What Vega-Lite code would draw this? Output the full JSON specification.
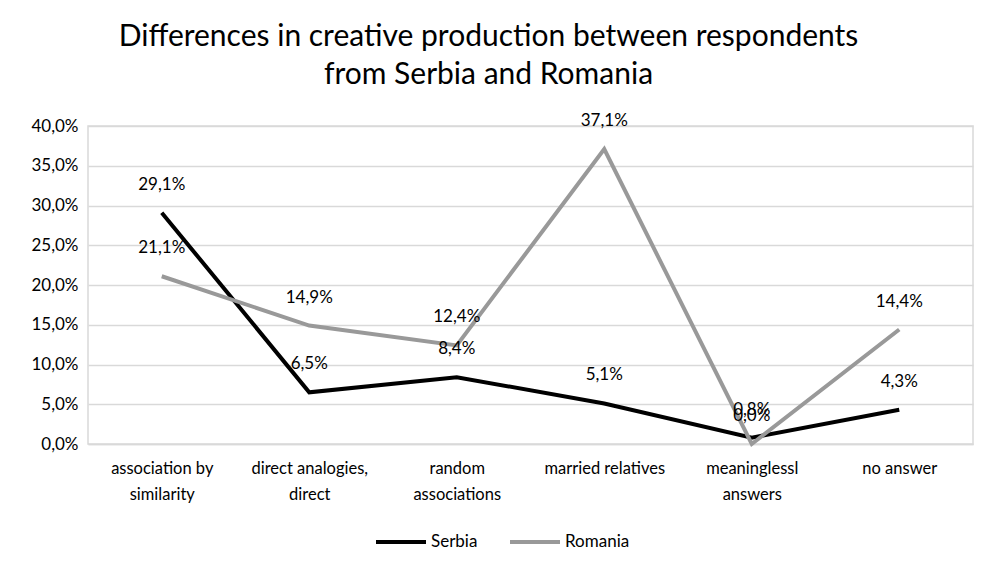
{
  "$schema": "https://vega.github.io/schema/vega-lite/v6.json",
  "width": 885,
  "height": 318,
  "padding": {"left": 30, "top": 22, "right": 9, "bottom": 8},
  "background": "white",
  "title": {
    "text": ["Differences in creative production between respondents", "from Serbia and Romania"],
    "font": "Lato",
    "fontSize": 30,
    "fontWeight": "normal",
    "color": "#000000",
    "lineHeight": 38,
    "offset": 22,
    "dx": -42,
    "anchor": "middle"
  },
  "data": {
    "values": [
      {"category": "association by similarity", "country": "Serbia", "value": 0.291, "label": "29,1%"},
      {"category": "direct analogies, direct", "country": "Serbia", "value": 0.065, "label": "6,5%"},
      {"category": "random associations", "country": "Serbia", "value": 0.084, "label": "8,4%"},
      {"category": "married relatives", "country": "Serbia", "value": 0.051, "label": "5,1%"},
      {"category": "meaninglessl answers", "country": "Serbia", "value": 0.008, "label": "0,8%"},
      {"category": "no answer", "country": "Serbia", "value": 0.043, "label": "4,3%"},
      {"category": "association by similarity", "country": "Romania", "value": 0.211, "label": "21,1%"},
      {"category": "direct analogies, direct", "country": "Romania", "value": 0.149, "label": "14,9%"},
      {"category": "random associations", "country": "Romania", "value": 0.124, "label": "12,4%"},
      {"category": "married relatives", "country": "Romania", "value": 0.371, "label": "37,1%"},
      {"category": "meaninglessl answers", "country": "Romania", "value": 0.0, "label": "0,0%"},
      {"category": "no answer", "country": "Romania", "value": 0.144, "label": "14,4%"}
    ]
  },
  "encoding": {
    "x": {
      "field": "category",
      "type": "nominal",
      "sort": null,
      "scale": {"paddingInner": 0, "paddingOuter": 0},
      "axis": {
        "title": null,
        "labelAngle": 0,
        "labelFont": "Lato",
        "labelFontSize": 16.5,
        "labelColor": "#000000",
        "labelLineHeight": 26,
        "labelPadding": 16,
        "ticks": false,
        "domainColor": "#d9d9d9",
        "domainWidth": 1.5,
        "labelExpr": "datum.value == 'association by similarity' ? ['association by', 'similarity'] : datum.value == 'direct analogies, direct' ? ['direct analogies,', 'direct'] : datum.value == 'random associations' ? ['random', 'associations'] : datum.value == 'meaninglessl answers' ? ['meaninglessl', 'answers'] : datum.value"
      }
    },
    "y": {
      "field": "value",
      "type": "quantitative",
      "scale": {"domain": [0, 0.4]},
      "axis": {
        "title": null,
        "values": [0, 0.05, 0.1, 0.15, 0.2, 0.25, 0.3, 0.35, 0.4],
        "labelOverlap": false,
        "labelExpr": "replace(format(datum.value * 100, '.1f'), '.', ',') + '%'",
        "labelFont": "Lato",
        "labelFontSize": 17,
        "labelColor": "#000000",
        "labelPadding": 10,
        "ticks": false,
        "domain": false,
        "gridColor": "#d9d9d9",
        "gridWidth": 1.5
      }
    },
    "color": {
      "field": "country",
      "type": "nominal",
      "sort": ["Serbia", "Romania"],
      "scale": {"domain": ["Serbia", "Romania"], "range": ["#000000", "#999999"]},
      "legend": {
        "title": null,
        "orient": "none",
        "legendX": 286,
        "legendY": 389,
        "direction": "horizontal",
        "symbolType": "stroke",
        "symbolStrokeWidth": 4,
        "symbolSize": 2500,
        "labelFont": "Lato",
        "labelFontSize": 17,
        "labelColor": "#000000",
        "labelOffset": 3,
        "columnPadding": 24
      }
    }
  },
  "layer": [
    {
      "mark": {"type": "line", "strokeWidth": 4}
    },
    {
      "mark": {"type": "text", "dy": -28, "font": "Lato", "fontSize": 17, "color": "#000000"},
      "encoding": {
        "text": {"field": "label"},
        "color": {"value": "#000000"}
      }
    }
  ],
  "config": {
    "view": {"stroke": "#d9d9d9", "strokeWidth": 1.5}
  }
}
